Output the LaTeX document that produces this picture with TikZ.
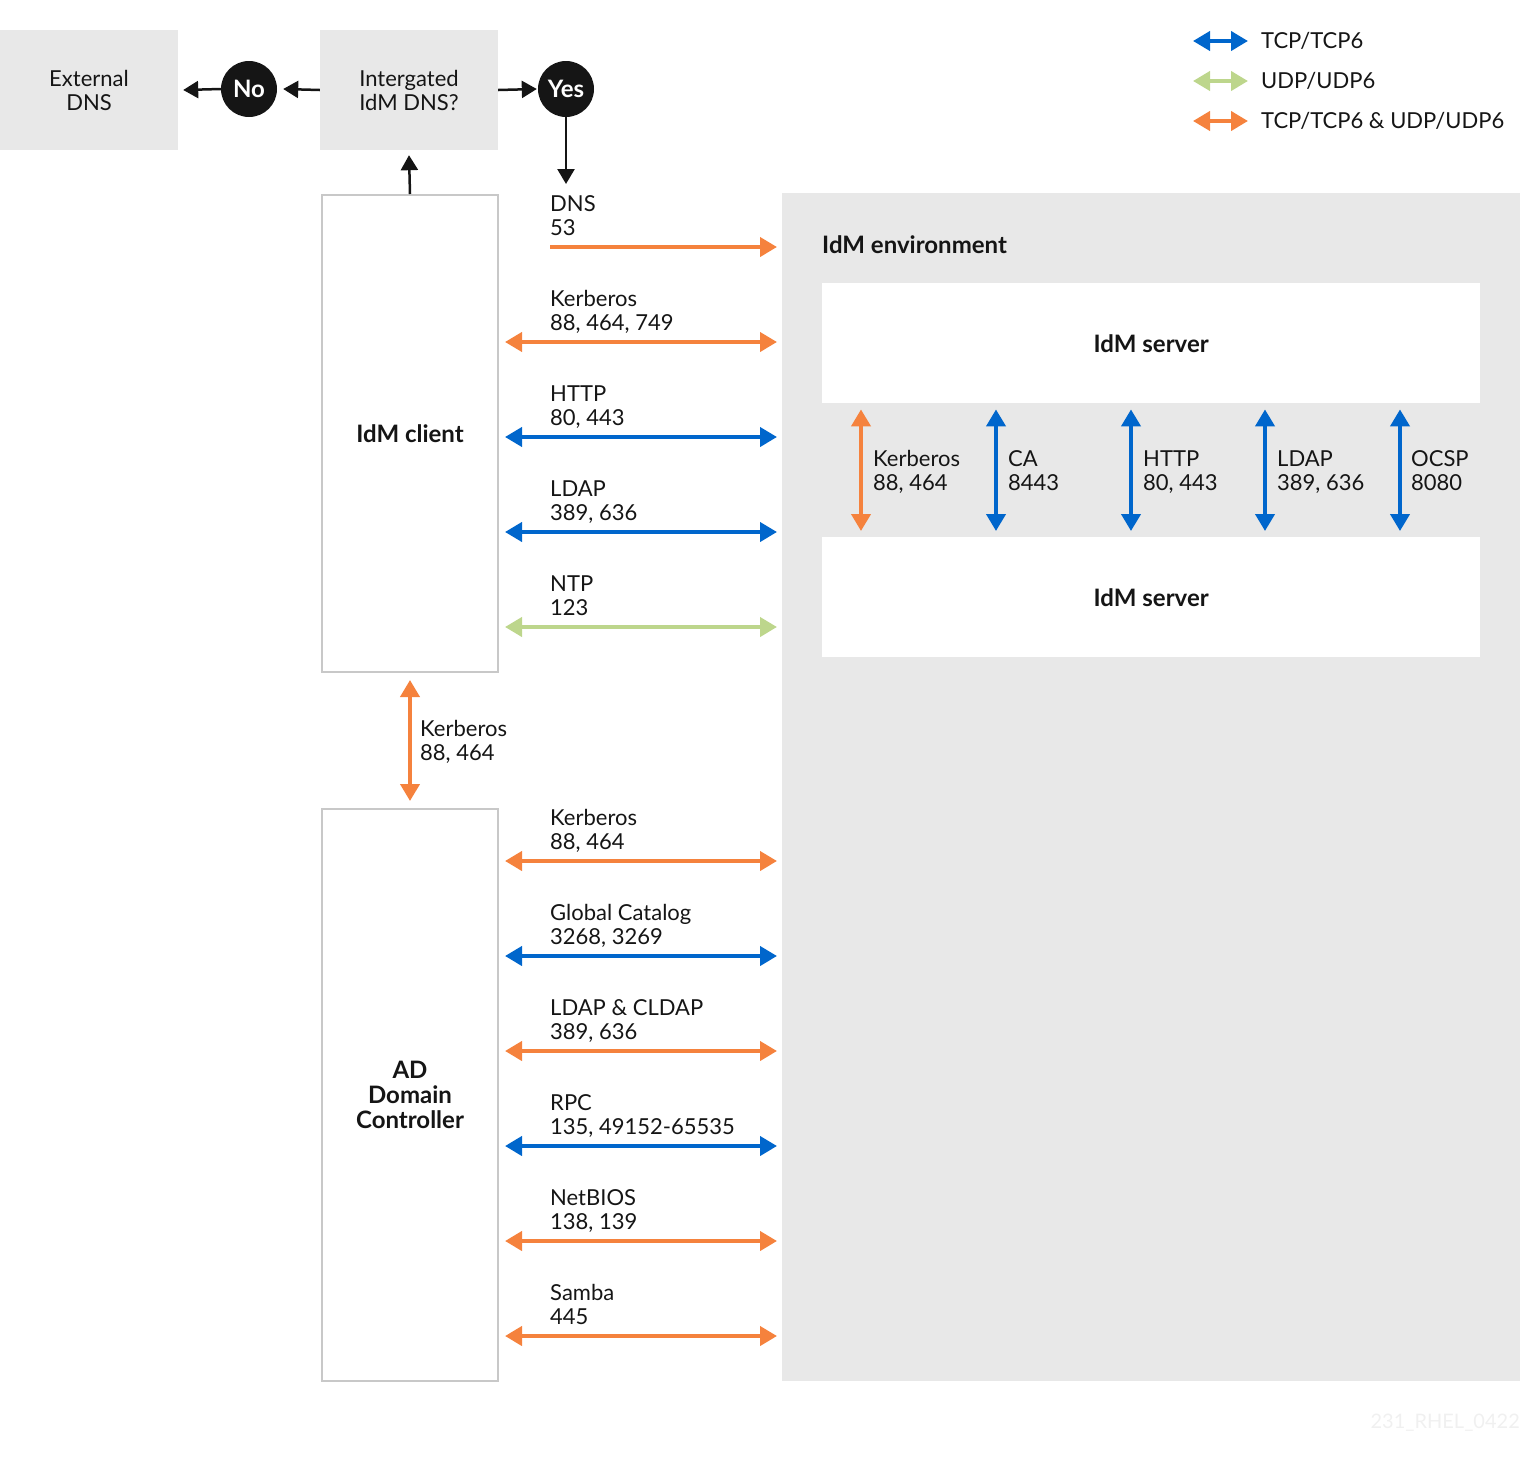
\documentclass[tikz,border=0pt]{standalone}
\usepackage{fontspec}
\setmainfont{Lato}
\usetikzlibrary{arrows.meta}
\definecolor{rhblue}{HTML}{0066CC}
\definecolor{rhorange}{HTML}{F5823D}
\definecolor{rhgreen}{HTML}{BDD68C}
\definecolor{boxgray}{HTML}{E8E8E8}
\definecolor{linegray}{HTML}{C8C8C8}
\definecolor{ink}{HTML}{151515}
\definecolor{wmgray}{HTML}{F0F0F0}
\tikzset{
  every node/.style={font=\fontsize{22}{24}\selectfont, text=ink},
  >={Triangle[length=17pt,width=19pt]},
  graybox/.style={fill=boxgray, minimum width=178pt, minimum height=120pt, align=center},
  hostbox/.style={draw=linegray, line width=2pt, fill=white, minimum width=176pt,
    anchor=north west, align=center, font=\fontsize{24}{25}\selectfont\bfseries},
  server/.style={fill=white, minimum width=658pt, minimum height=120pt, anchor=north west,
    font=\fontsize{24}{25}\selectfont\bfseries},
  answer/.style={circle, fill=ink, text=white, minimum size=56pt, inner sep=0pt,
    font=\fontsize{24}{25}\selectfont\bfseries},
  flow/.style={ink, line width=2.5pt, -{Triangle[length=15pt,width=17pt]}},
  tcp/.style={rhblue, line width=4pt, <->},
  udp/.style={rhgreen, line width=4pt, <->},
  both/.style={rhorange, line width=4pt, <->},
  port/.style={anchor=south west, align=left, inner sep=0pt, text depth=0pt}
}
\begin{document}
\begin{tikzpicture}[x=1pt,y=-1pt]
  \useasboundingbox (0,0) rectangle (1520,1462);

  % DNS question
  \node[graybox] (ext) at (89,90) {External\\DNS};
  \node[graybox] (quest) at (409,90) {Intergated\\IdM DNS?};
  \node[answer] (no) at (249,89) {No};
  \node[answer] (yes) at (566,89) {Yes};
  \coordinate (dnsin) at (566,184);
  \draw[flow] (quest.west) -- ([xshift=6pt]no.east);
  \draw[flow] (no.west) -- ([xshift=5pt]ext.east);
  \draw[flow] (quest.east) -- ([xshift=-1pt]yes.west);
  \draw[flow] (yes.south) -- (dnsin);

  % legend
  \node[anchor=west, inner sep=0pt] (legtcp) at (1261,41) {TCP/TCP6};
  \node[anchor=west, inner sep=0pt] (legudp) at (1261,81) {UDP/UDP6};
  \node[anchor=west, inner sep=0pt] (legboth) at (1261,121) {TCP/TCP6 \& UDP/UDP6};
  \draw[tcp] ([xshift=-68pt]legtcp.west) -- ([xshift=-13pt]legtcp.west);
  \draw[udp] ([xshift=-68pt]legudp.west) -- ([xshift=-13pt]legudp.west);
  \draw[both] ([xshift=-68pt]legboth.west) -- ([xshift=-13pt]legboth.west);

  % hosts
  \node[hostbox, minimum height=477pt] (client) at (321,194) {IdM client};
  \node[hostbox, minimum height=572pt] (ad) at (321,808) {AD\\Domain\\Controller};
  \draw[flow] (client.north) -- ([yshift=-5pt]quest.south);
  \draw[both] ([yshift=-7pt]client.south) -- ([yshift=7pt]ad.north);
  \node[port] (adkrb) at (420,761) {Kerberos\\88, 464};

  % IdM environment
  \node[fill=boxgray, minimum width=738pt, minimum height=1188pt, anchor=north west,
    inner sep=0pt] (env) at (782,193) {};
  \node[anchor=base west, inner sep=0pt, font=\fontsize{24}{25}\selectfont\bfseries]
    (envlbl) at (822,253) {IdM environment};
  \node[server] (srvA) at (822,283) {IdM server};
  \node[server] (srvB) at (822,537) {IdM server};

  % replication between servers
  \draw[both] ([yshift=-6pt]srvA.south -| 861,0) -- ([yshift=6pt]srvB.north -| 861,0);
  \draw[tcp] ([yshift=-6pt]srvA.south -| 996,0) -- ([yshift=6pt]srvB.north -| 996,0);
  \draw[tcp] ([yshift=-6pt]srvA.south -| 1131,0) -- ([yshift=6pt]srvB.north -| 1131,0);
  \draw[tcp] ([yshift=-6pt]srvA.south -| 1265,0) -- ([yshift=6pt]srvB.north -| 1265,0);
  \draw[tcp] ([yshift=-6pt]srvA.south -| 1400,0) -- ([yshift=6pt]srvB.north -| 1400,0);
  \node[port] (srvkrb) at (873,491) {Kerberos\\88, 464};
  \node[port] (srvca) at (1008,491) {CA\\8443};
  \node[port] (srvhttp) at (1143,491) {HTTP\\80, 443};
  \node[port] (srvldap) at (1277,491) {LDAP\\389, 636};
  \node[port] (srvocsp) at (1411,491) {OCSP\\8080};

  % client ports
  \draw[both, <-] ([xshift=-5pt]env.west |- 0,247) -- (550,247);
  \draw[both] ([xshift=6pt]client.east |- 0,342) -- ([xshift=-5pt]env.west |- 0,342);
  \draw[tcp] ([xshift=6pt]client.east |- 0,437) -- ([xshift=-5pt]env.west |- 0,437);
  \draw[tcp] ([xshift=6pt]client.east |- 0,532) -- ([xshift=-5pt]env.west |- 0,532);
  \draw[udp] ([xshift=6pt]client.east |- 0,627) -- ([xshift=-5pt]env.west |- 0,627);
  \node[port] (cdns) at (550,236) {DNS\\53};
  \node[port] (ckrb) at (550,331) {Kerberos\\88, 464, 749};
  \node[port] (chttp) at (550,426) {HTTP\\80, 443};
  \node[port] (cldap) at (550,521) {LDAP\\389, 636};
  \node[port] (cntp) at (550,616) {NTP\\123};

  % AD ports
  \draw[both] ([xshift=6pt]ad.east |- 0,861) -- ([xshift=-5pt]env.west |- 0,861);
  \draw[tcp] ([xshift=6pt]ad.east |- 0,956) -- ([xshift=-5pt]env.west |- 0,956);
  \draw[both] ([xshift=6pt]ad.east |- 0,1051) -- ([xshift=-5pt]env.west |- 0,1051);
  \draw[tcp] ([xshift=6pt]ad.east |- 0,1146) -- ([xshift=-5pt]env.west |- 0,1146);
  \draw[both] ([xshift=6pt]ad.east |- 0,1241) -- ([xshift=-5pt]env.west |- 0,1241);
  \draw[both] ([xshift=6pt]ad.east |- 0,1336) -- ([xshift=-5pt]env.west |- 0,1336);
  \node[port] (akrb) at (550,850) {Kerberos\\88, 464};
  \node[port] (agc) at (550,945) {Global Catalog\\3268, 3269};
  \node[port] (aldap) at (550,1040) {LDAP \& CLDAP\\389, 636};
  \node[port] (arpc) at (550,1135) {RPC\\135, 49152-65535};
  \node[port] (anb) at (550,1230) {NetBIOS\\138, 139};
  \node[port] (asmb) at (550,1325) {Samba\\445};

  \node[anchor=base east, inner sep=0pt, text=wmgray, font=\fontsize{20}{24}\selectfont]
    (tag) at (1520,1428) {231\_RHEL\_0422};
\end{tikzpicture}
\end{document}
